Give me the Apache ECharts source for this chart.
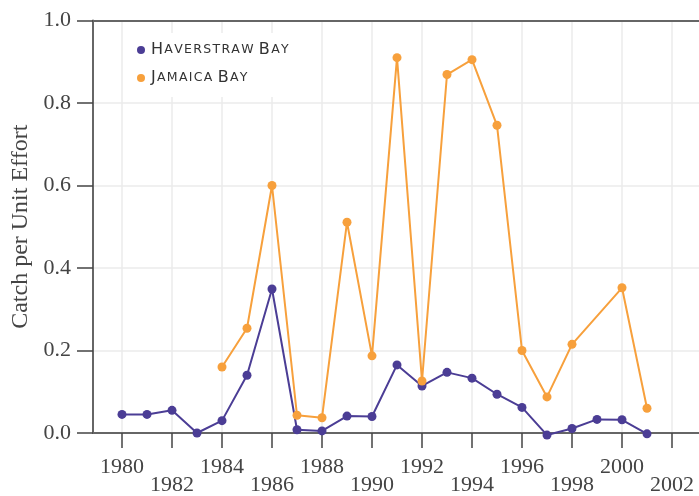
<!DOCTYPE html>
<html>
<head>
<meta charset="utf-8">
<script src="https://cdn.jsdelivr.net/npm/echarts@6/dist/echarts.min.js"></script>
<style>
  html, body { margin: 0; padding: 0; background: #fff; }
  #chart { width: 699px; height: 496px; }
</style>
</head>
<body>
<div id="chart"></div>
<script>
  // catch per unit effort by year
  const years = [1980, 1981, 1982, 1983, 1984, 1985, 1986, 1987, 1988, 1989, 1990,
    1991, 1992, 1993, 1994, 1995, 1996, 1997, 1998, 1999, 2000, 2001];
  const haverstraw = [0.045, 0.045, 0.055, 0.0, 0.03, 0.14, 0.349, 0.008, 0.005, 0.041, 0.04,
    0.165, 0.114, 0.147, 0.133, 0.094, 0.062, -0.005, 0.011, 0.033, 0.032, -0.002];
  const jamaica = [null, null, null, null, 0.16, 0.254, 0.60, 0.043, 0.037, 0.511, 0.187,
    0.91, 0.126, 0.869, 0.905, 0.746, 0.20, 0.0875, 0.215, null, 0.352, 0.06];
  const xTicks = [1980, 1982, 1984, 1986, 1988, 1990, 1992, 1994, 1996, 1998, 2000, 2002];
  const seriesNames = ['Haverstraw Bay', 'Jamaica Bay'];
  const colors = ['#4b3d95', '#f7a03c'];

  const serif = '"Liberation Serif", "DejaVu Serif", serif';
  const sans = '"DejaVu Sans", sans-serif';
  const xMin = 1978.84, xMax = 2003.08;

  // small caps look for the legend, one token per letter so it can be spaced out
  function smallCaps(name) {
    return name.split(' ').map(w =>
      w.split('').map((c, k) => (k === 0 ? '{big|' : '{small|') + c.toUpperCase() + '}').join('')
    ).join('{gap| }');
  }

  const chart = echarts.init(document.getElementById('chart'));
  chart.setOption({
    animation: false,
    color: colors,
    grid: { left: 93, right: 0, top: 20.5, bottom: 61 },
    legend: {
      orient: 'vertical',
      left: 123,
      top: 33,
      padding: [9, 26, 11, 14],
      backgroundColor: '#fff',
      icon: 'circle',
      itemWidth: 10,
      itemHeight: 8,
      itemGap: 12,
      formatter: smallCaps,
      textStyle: {
        color: '#333',
        rich: {
          big: { fontFamily: sans, fontSize: 16, lineHeight: 14, color: '#333', padding: [0, 1.3, 0, 0] },
          small: { fontFamily: sans, fontSize: 12.5, lineHeight: 14, color: '#333', padding: [0, 1.3, 0, 0] },
          gap: { fontFamily: sans, fontSize: 12.5, lineHeight: 14 }
        }
      },
      data: seriesNames
    },
    xAxis: [{
      type: 'value',
      min: xMin,
      max: xMax,
      axisLine: { lineStyle: { color: '#666', width: 2 } },
      axisTick: { length: 15, lineStyle: { color: '#444', width: 1.5 }, customValues: xTicks },
      splitLine: { show: true, lineStyle: { color: '#ebebeb', width: 1.5 } },
      axisLabel: {
        customValues: xTicks,
        margin: 23,
        color: '#444',
        fontFamily: serif,
        fontSize: 22,
        formatter: v => ((v - 1980) / 2) % 2 ? '{b|' + v + '}' : '{a|' + v + '}',
        rich: {
          a: { fontFamily: serif, fontSize: 22, color: '#444' },
          b: { fontFamily: serif, fontSize: 22, color: '#444', padding: [18, 0, 0, 0] }
        }
      }
    }, {
      type: 'value',
      position: 'top',
      min: xMin,
      max: xMax,
      axisLine: { show: true, lineStyle: { color: '#666', width: 2 } },
      axisTick: { show: false },
      axisLabel: { show: false },
      splitLine: { show: false }
    }],
    yAxis: {
      type: 'value',
      min: 0,
      max: 1,
      interval: 0.2,
      name: 'Catch per Unit Effort',
      nameLocation: 'middle',
      nameGap: 56,
      nameTextStyle: { fontFamily: serif, fontSize: 24, color: '#444' },
      axisLine: { show: true, lineStyle: { color: '#666', width: 2 } },
      axisTick: { show: true, length: 16, lineStyle: { color: '#444', width: 1.5 } },
      splitLine: { lineStyle: { color: '#ebebeb', width: 1.5 } },
      axisLabel: {
        margin: 22,
        color: '#444',
        fontFamily: serif,
        fontSize: 22,
        formatter: v => v.toFixed(1)
      }
    },
    series: [haverstraw, jamaica].map((vals, i) => ({
      name: seriesNames[i],
      type: 'line',
      clip: false,
      connectNulls: true,
      symbol: 'circle',
      symbolSize: 9,
      lineStyle: { width: 2, color: colors[i] },
      itemStyle: { color: colors[i] },
      data: years.map((y, j) => [y, vals[j]])
    }))
  });
</script>
</body>
</html>
